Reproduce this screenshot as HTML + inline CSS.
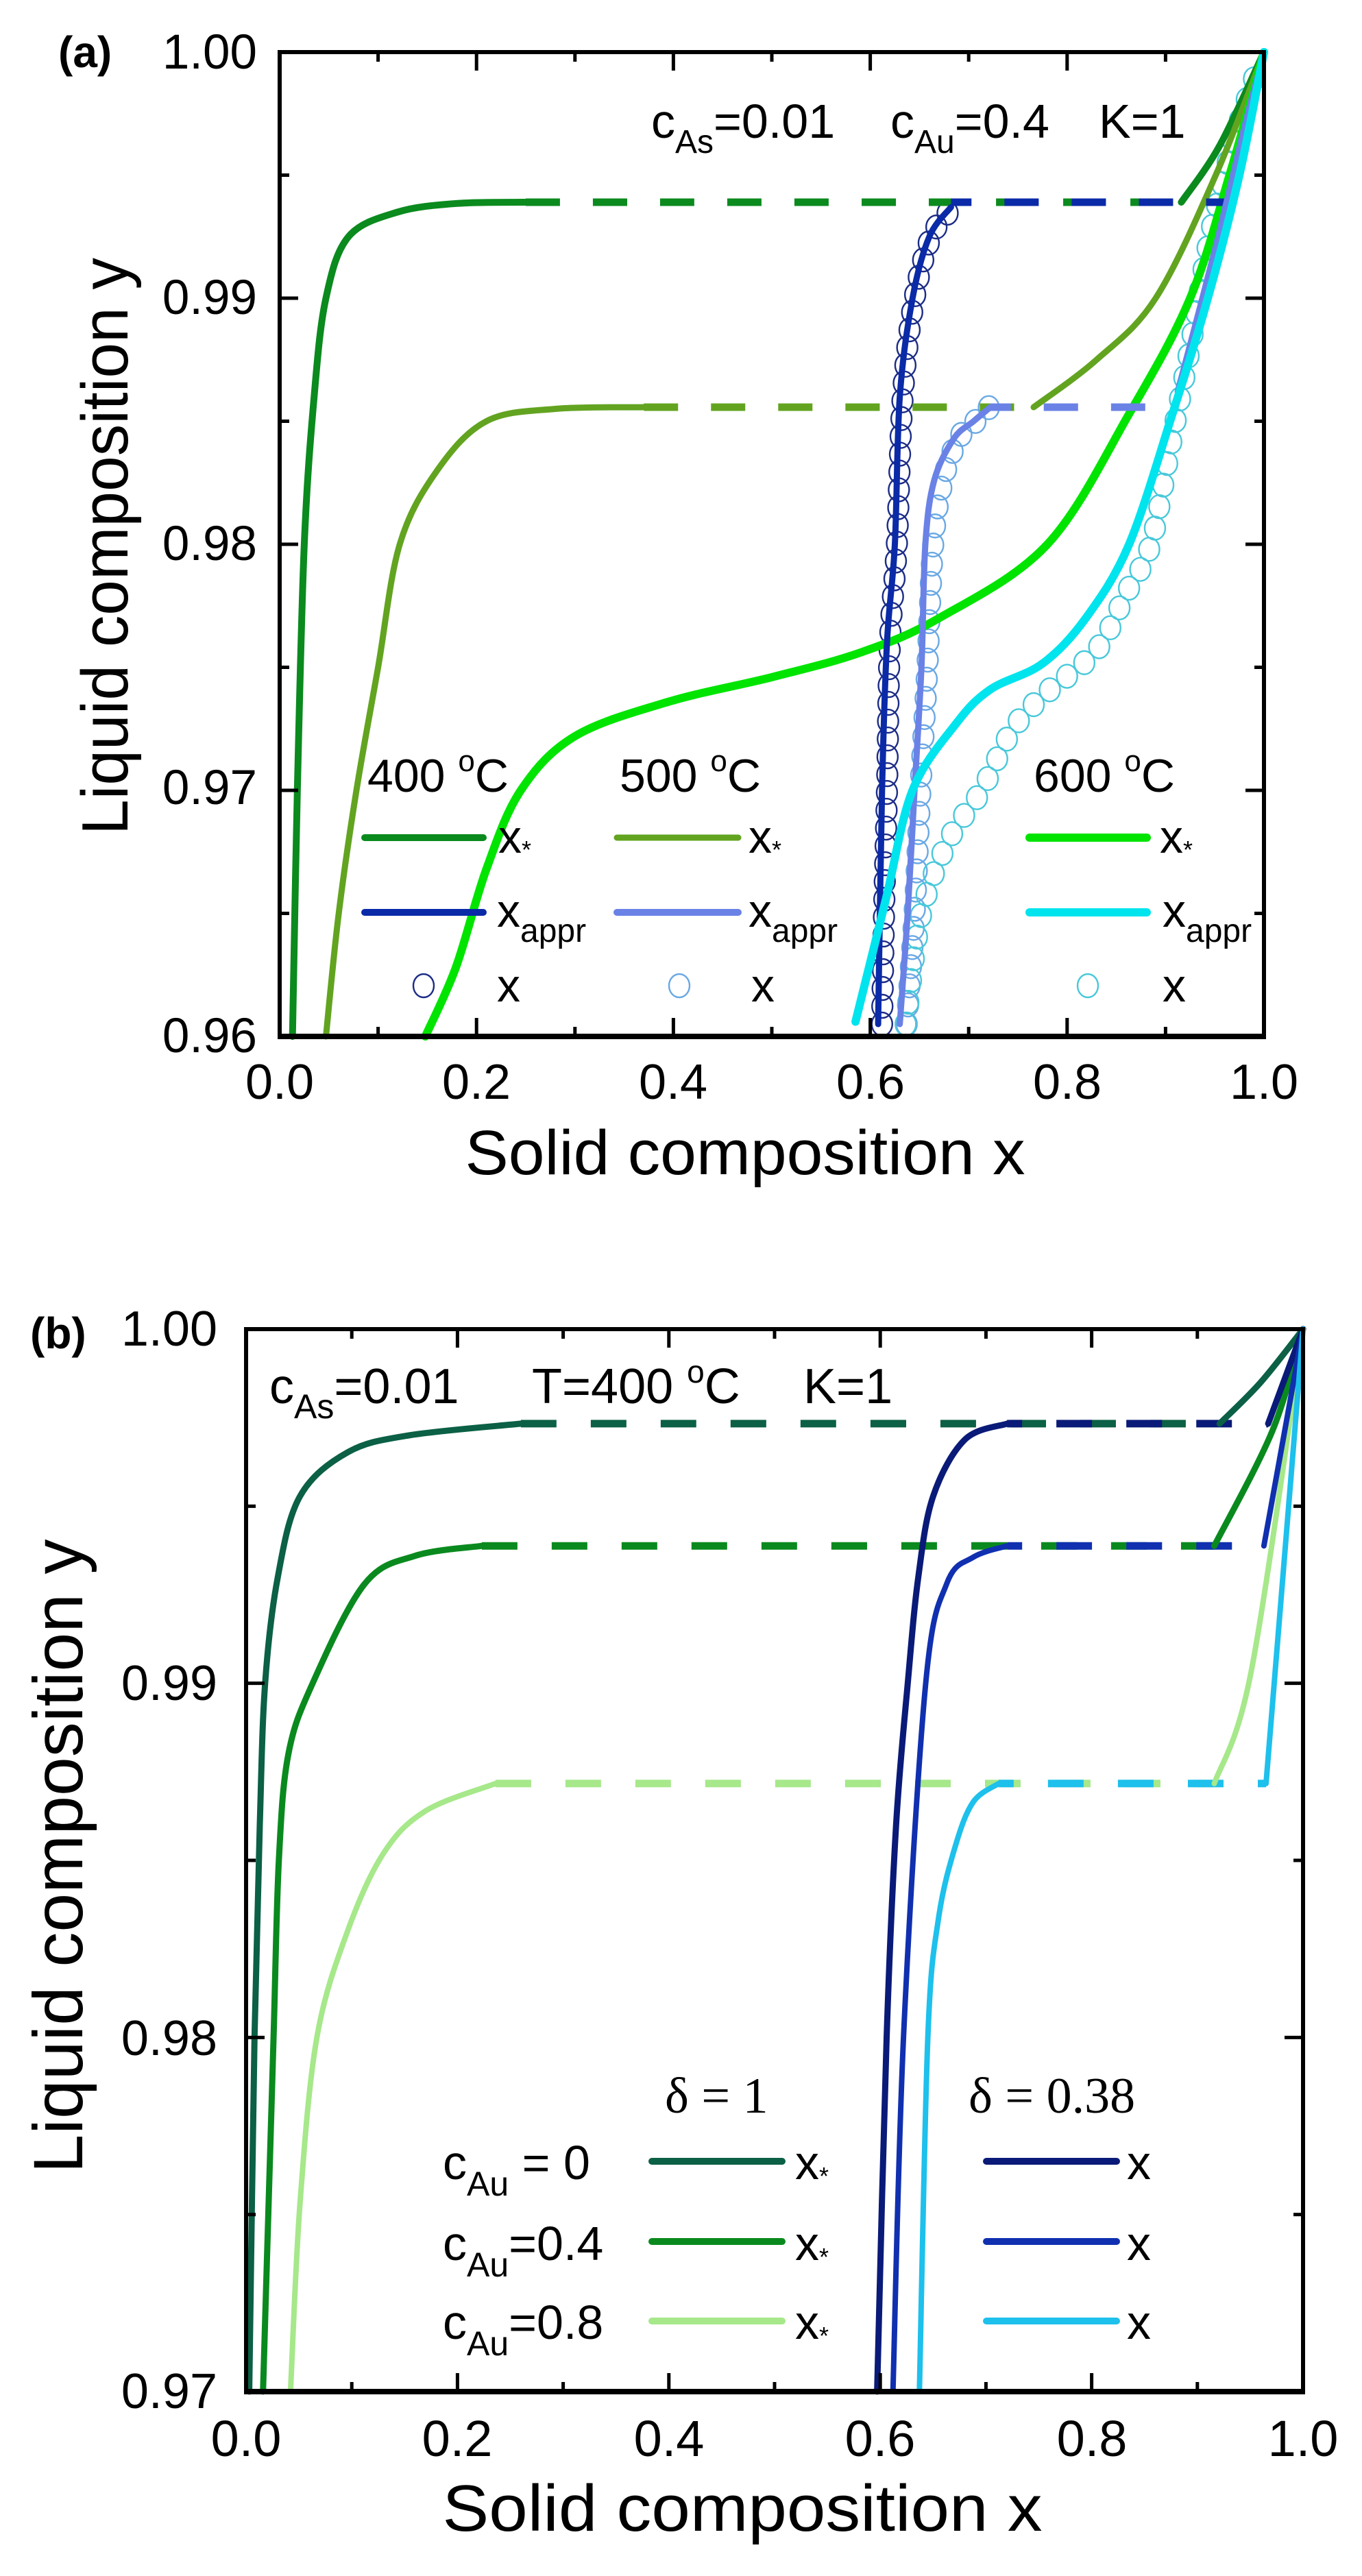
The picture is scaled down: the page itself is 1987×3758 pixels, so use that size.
<!DOCTYPE html>
<html><head><meta charset="utf-8">
<style>
html,body{margin:0;padding:0;background:#fff;}
svg{display:block;}
text{font-family:"Liberation Sans",Arial,sans-serif;fill:#000;}
.serif{font-family:"Liberation Serif","Times New Roman",serif;}
</style></head>
<body>
<svg id="s" width="1987" height="3758" viewBox="0 0 1987 3758" xmlns="http://www.w3.org/2000/svg">
<rect width="1987" height="3758" fill="#fff"/>
<g id="ga"></g>
<g id="gb"></g>

<!-- Panel (a) texts -->
<text x="85" y="98" font-size="64" font-weight="bold">(a)</text>
<g font-size="71" text-anchor="end">
<text x="375" y="100">1.00</text>
<text x="375" y="458">0.99</text>
<text x="375" y="817">0.98</text>
<text x="375" y="1173">0.97</text>
<text x="375" y="1535">0.96</text>
</g>
<g font-size="72" text-anchor="middle">
<text x="408" y="1603">0.0</text>
<text x="695" y="1603">0.2</text>
<text x="982" y="1603">0.4</text>
<text x="1270" y="1603">0.6</text>
<text x="1557" y="1603">0.8</text>
<text x="1844" y="1603">1.0</text>
</g>
<text x="1087" y="1713" font-size="92" text-anchor="middle" textLength="817" lengthAdjust="spacingAndGlyphs">Solid composition x</text>
<text transform="translate(186,797) rotate(-90)" font-size="96" text-anchor="middle" textLength="842" lengthAdjust="spacingAndGlyphs">Liquid composition y</text>
<g font-size="70">
<text x="950" y="201">c<tspan font-size="48" dy="22">As</tspan><tspan dy="-22">=0.01</tspan></text>
<text x="1299" y="201">c<tspan font-size="48" dy="22">Au</tspan><tspan dy="-22">=0.4</tspan></text>
<text x="1603" y="201">K=1</text>
</g>
<g font-size="68">
<text x="536" y="1155">400 <tspan font-size="44" dy="-30">o</tspan><tspan dy="30">C</tspan></text>
<text x="904" y="1155">500 <tspan font-size="44" dy="-30">o</tspan><tspan dy="30">C</tspan></text>
<text x="1508" y="1155">600 <tspan font-size="44" dy="-30">o</tspan><tspan dy="30">C</tspan></text>
<text x="727" y="1244">x<tspan font-size="36" dy="8">*</tspan></text>
<text x="1092" y="1244">x<tspan font-size="36" dy="8">*</tspan></text>
<text x="1692" y="1244">x<tspan font-size="36" dy="8">*</tspan></text>
<text x="725" y="1352">x<tspan font-size="48" dy="22">appr</tspan></text>
<text x="1092" y="1352">x<tspan font-size="48" dy="22">appr</tspan></text>
<text x="1696" y="1352">x<tspan font-size="48" dy="22">appr</tspan></text>
<text x="725" y="1461">x</text>
<text x="1096" y="1461">x</text>
<text x="1696" y="1461">x</text>
</g>

<!-- Panel (b) texts -->
<text x="44" y="1967" font-size="64" font-weight="bold">(b)</text>
<g font-size="72" text-anchor="end">
<text x="317" y="1963">1.00</text>
<text x="317" y="2480">0.99</text>
<text x="317" y="2998">0.98</text>
<text x="317" y="3513">0.97</text>
</g>
<g font-size="74" text-anchor="middle">
<text x="359" y="3583">0.0</text>
<text x="667" y="3583">0.2</text>
<text x="976" y="3583">0.4</text>
<text x="1284" y="3583">0.6</text>
<text x="1593" y="3583">0.8</text>
<text x="1901" y="3583">1.0</text>
</g>
<text x="1083" y="3692" font-size="96" text-anchor="middle" textLength="875" lengthAdjust="spacingAndGlyphs">Solid composition x</text>
<text transform="translate(120,2708) rotate(-90)" font-size="102" text-anchor="middle" textLength="925" lengthAdjust="spacingAndGlyphs">Liquid composition y</text>
<g font-size="72">
<text x="393" y="2047">c<tspan font-size="50" dy="22">As</tspan><tspan dy="-22">=0.01</tspan></text>
<text x="776" y="2047">T=400 <tspan font-size="46" dy="-30">o</tspan><tspan dy="30">C</tspan></text>
<text x="1172" y="2047">K=1</text>
</g>
<g font-size="70">
<text class="serif" x="970" y="3082" font-size="74">δ = 1</text>
<text class="serif" x="1413" y="3082" font-size="74">δ = 0.38</text>
<text x="646" y="3179">c<tspan font-size="50" dy="24">Au</tspan><tspan dy="-24"> = 0</tspan></text>
<text x="646" y="3297">c<tspan font-size="50" dy="24">Au</tspan><tspan dy="-24">=0.4</tspan></text>
<text x="646" y="3412">c<tspan font-size="50" dy="24">Au</tspan><tspan dy="-24">=0.8</tspan></text>
<text x="1160" y="3179">x<tspan font-size="36" dy="8">*</tspan></text>
<text x="1160" y="3297">x<tspan font-size="36" dy="8">*</tspan></text>
<text x="1160" y="3412">x<tspan font-size="36" dy="8">*</tspan></text>
<text x="1644" y="3179">x</text>
<text x="1644" y="3297">x</text>
<text x="1644" y="3412">x</text>
</g>
</svg>
<script>
(function(){
var NS="http://www.w3.org/2000/svg";
function el(p,tag,at){var e=document.createElementNS(NS,tag);for(var k in at)e.setAttribute(k,at[k]);p.appendChild(e);return e;}
function cr(pts){
 var d="M"+pts[0][0].toFixed(1)+","+pts[0][1].toFixed(1);
 for(var i=0;i<pts.length-1;i++){
  var p0=pts[i-1]||pts[i],p1=pts[i],p2=pts[i+1],p3=pts[i+2]||p2;
  var c1=[p1[0]+(p2[0]-p0[0])/6,p1[1]+(p2[1]-p0[1])/6];
  var c2=[p2[0]-(p3[0]-p1[0])/6,p2[1]-(p3[1]-p1[1])/6];
  d+=" C"+c1[0].toFixed(1)+","+c1[1].toFixed(1)+" "+c2[0].toFixed(1)+","+c2[1].toFixed(1)+" "+p2[0].toFixed(1)+","+p2[1].toFixed(1);
 }
 return d;}
function panel(g,L,R,T,B,ymin,yticks){
 var X=function(x){return L+(R-L)*x;},Y=function(y){return T+(1-y)/(1-ymin)*(B-T);};
 function curve(data,col,w,dash){var p=data.map(function(q){return[X(q[0]),Y(q[1])];});
  var a={d:cr(p),fill:"none",stroke:col,"stroke-width":w,"stroke-linecap":"round","stroke-linejoin":"round"};
  if(dash){a["stroke-dasharray"]=dash;a["stroke-linecap"]="butt";}return el(g,"path",a);}
 function circles(data,col,step){var p=data.map(function(q){return[X(q[0]),Y(q[1])];});
  var path=el(g,"path",{d:cr(p),fill:"none",stroke:"none"});var len=path.getTotalLength();
  for(var s=0;s<=len;s+=step){var pt=path.getPointAtLength(s);el(g,"ellipse",{cx:pt.x,cy:pt.y,rx:15,ry:17,fill:"none",stroke:col,"stroke-width":2.4});}}
 function axes(){
  el(g,"rect",{x:L,y:T,width:R-L,height:B-T,fill:"none",stroke:"#000","stroke-width":6});
  el(g,"line",{x1:L-3,y1:B,x2:R+3,y2:B,stroke:"#000","stroke-width":8});
  for(var i=0;i<=10;i++){var x=X(i/10),len=(i%2==0)?27:14;
   el(g,"line",{x1:x,y1:B,x2:x,y2:B-len,stroke:"#000","stroke-width":5});
   el(g,"line",{x1:x,y1:T,x2:x,y2:T+len,stroke:"#000","stroke-width":5});}
  for(var j=0;j<yticks.length;j++){var y=yticks[j][0],len2=yticks[j][1]?27:14,yy=Y(y);
   el(g,"line",{x1:L,y1:yy,x2:L+len2,y2:yy,stroke:"#000","stroke-width":5});
   el(g,"line",{x1:R,y1:yy,x2:R-len2,y2:yy,stroke:"#000","stroke-width":5});}
 }
 return {X:X,Y:Y,curve:curve,circles:circles,axes:axes};
}
// ---------- Panel a ----------
var ga=document.getElementById("ga");
var yta=[];for(var k=0;k<=8;k++)yta.push([0.96+k*0.005,k%2==0]);
var A=panel(ga,408,1844,76,1512,0.96,yta);
var D="50 48";
A.circles([[0.612,0.9605],[0.614,0.965],[0.617,0.97],[0.62,0.976],[0.627,0.98],[0.633,0.986],[0.645,0.99],[0.662,0.9925],[0.684,0.9937]],"#1c2c86",26);
A.circles([[0.637,0.9605],[0.645,0.965],[0.651,0.97],[0.658,0.975],[0.664,0.98],[0.674,0.9826],[0.69,0.9843],[0.707,0.985],[0.724,0.9857]],"#6aa8e4",28);
A.circles([[0.636,0.9605],[0.652,0.965],[0.68,0.968],[0.713,0.97],[0.745,0.9725],[0.78,0.974],[0.83,0.9757],[0.86,0.978],[0.885,0.98],[0.905,0.984],[0.925,0.988],[0.945,0.9925],[0.97,0.9965],[0.995,0.9995]],"#48c8da",32);
A.curve([[0.013,0.96],[0.018,0.97],[0.025,0.98],[0.035,0.986],[0.047,0.99],[0.07,0.9925],[0.12,0.9935],[0.18,0.99385],[0.25,0.9939]],"#0b8a1e",10);
A.curve([[0.25,0.9939],[0.916,0.9939]],"#0b8a1e",11,D);
A.curve([[0.916,0.9939],[0.955,0.9962],[1,1]],"#0b8a1e",10);
A.curve([[0.047,0.96],[0.06,0.965],[0.078,0.97],[0.1,0.975],[0.122,0.98],[0.16,0.983],[0.21,0.985],[0.28,0.9855],[0.37,0.98557]],"#62a420",9);
A.curve([[0.37,0.98557],[0.766,0.98557]],"#62a420",11,D);
A.curve([[0.766,0.98557],[0.83,0.9875],[0.89,0.99],[0.951,0.995],[1,1]],"#62a420",9);
A.curve([[0.148,0.96],[0.179,0.9628],[0.21,0.9668],[0.245,0.97],[0.3,0.9722],[0.395,0.9736],[0.5,0.9746],[0.59,0.9756],[0.67,0.977],[0.78,0.98],[0.863,0.9853],[0.925,0.99],[0.965,0.995],[1,1]],"#00e400",12);
A.curve([[0.682,0.9939],[0.968,0.9939]],"#0a2aa8",11,D).setAttribute("stroke-dashoffset","20");
A.curve([[0.968,0.9939],[1,1]],"#0a2aa8",8);
A.curve([[0.608,0.9605],[0.612,0.97],[0.617,0.976],[0.625,0.98],[0.63,0.986],[0.643,0.99],[0.66,0.9925],[0.682,0.9937]],"#0a2aa8",9);
A.curve([[0.722,0.98557],[0.905,0.98557]],"#6a82e6",11,D).setAttribute("stroke-dashoffset","20");
A.curve([[0.63,0.9605],[0.638,0.965],[0.645,0.97],[0.652,0.975],[0.656,0.98],[0.665,0.9826],[0.685,0.9843],[0.705,0.985],[0.722,0.98557]],"#6a82e6",9);
A.curve([[0.912,0.9862],[0.95,0.992],[0.98,0.997],[1,1]],"#6a82e6",8);
A.curve([[0.585,0.9606],[0.616,0.9656],[0.643,0.97],[0.687,0.9727],[0.722,0.9741],[0.775,0.97515],[0.819,0.977],[0.863,0.98],[0.907,0.9853],[0.943,0.99],[0.975,0.995],[1,1]],"#00e4ee",12);
A.axes();
function ll(g,x1,x2,y,c,w){el(g,"line",{x1:x1,y1:y,x2:x2,y2:y,stroke:c,"stroke-width":w,"stroke-linecap":"round"});}
ll(ga,532,705,1222,"#0b8a1e",10);ll(ga,900,1077,1222,"#62a420",9);ll(ga,1502,1673,1222,"#00e400",12);
ll(ga,532,705,1331,"#0a2aa8",10);ll(ga,900,1077,1331,"#6a82e6",10);ll(ga,1502,1673,1331,"#00e4ee",12);
el(ga,"ellipse",{cx:618,cy:1438,rx:15,ry:17,fill:"none",stroke:"#1c2c86","stroke-width":2.4});
el(ga,"ellipse",{cx:991,cy:1438,rx:15,ry:17,fill:"none",stroke:"#6aa8e4","stroke-width":2.4});
el(ga,"ellipse",{cx:1587,cy:1438,rx:15,ry:17,fill:"none",stroke:"#48c8da","stroke-width":2.4});
// ---------- Panel b ----------
var gb=document.getElementById("gb");
var ytb=[];for(var k2=0;k2<=6;k2++)ytb.push([0.97+k2*0.005,k2%2==0]);
var Bp=panel(gb,359,1901,1939,3489,0.97,ytb);
var DB="52 50";
Bp.curve([[0.26,0.99733],[0.921,0.99733]],"#0b6045",11,DB);
Bp.curve([[0.223,0.99388],[0.916,0.99388]],"#0a8a1e",11,DB);
Bp.curve([[0.236,0.98717],[0.916,0.98717]],"#a6e88a",11,DB);
Bp.curve([[0.72,0.99733],[0.967,0.99733]],"#0a1a78",11,DB).setAttribute("stroke-dashoffset","30");
Bp.curve([[0.72,0.99388],[0.963,0.99388]],"#1030b0",11,DB).setAttribute("stroke-dashoffset","30");
Bp.curve([[0.712,0.98717],[0.965,0.98717]],"#1ec0ec",11,DB).setAttribute("stroke-dashoffset","30");
Bp.curve([[0.003,0.97],[0.008,0.98],[0.013,0.986],[0.018,0.99],[0.03,0.993],[0.051,0.99528],[0.096,0.99652],[0.154,0.997],[0.26,0.99733]],"#0b6045",9);
Bp.curve([[0.921,0.99733],[0.96,0.9985],[1,1]],"#0b6045",9);
Bp.curve([[0.016,0.97],[0.021,0.975],[0.026,0.98],[0.031,0.985],[0.04,0.988],[0.063,0.99],[0.112,0.9928],[0.16,0.9936],[0.223,0.99388]],"#0a8a1e",9);
Bp.curve([[0.916,0.99388],[0.971,0.99713],[1,1]],"#0a8a1e",9);
Bp.curve([[0.042,0.97],[0.051,0.9753],[0.067,0.98],[0.096,0.983],[0.13,0.9852],[0.17,0.9864],[0.236,0.98717]],"#a6e88a",8);
Bp.curve([[0.916,0.98717],[0.951,0.99034],[1,1]],"#a6e88a",8);
Bp.curve([[0.597,0.97],[0.606,0.98],[0.615,0.986],[0.626,0.99],[0.636,0.993],[0.65,0.99528],[0.68,0.99688],[0.72,0.99733]],"#0a1a78",9);
Bp.curve([[0.967,0.99733],[1,1]],"#0a1a78",9);
Bp.curve([[0.612,0.97],[0.622,0.98],[0.643,0.99],[0.663,0.99282],[0.688,0.99356],[0.72,0.99388]],"#1030b0",8);
Bp.curve([[0.963,0.99388],[1,1]],"#1030b0",8);
Bp.curve([[0.637,0.97],[0.645,0.98],[0.655,0.98334],[0.671,0.9854],[0.688,0.98665],[0.712,0.98717]],"#1ec0ec",8);
Bp.curve([[0.965,0.98717],[1,1]],"#1ec0ec",8);
Bp.axes();
ll(gb,951,1141,3153,"#0b6045",10);ll(gb,951,1141,3270,"#0a8a1e",10);ll(gb,951,1141,3386,"#a6e88a",10);
ll(gb,1439,1629,3153,"#0a1a78",10);ll(gb,1439,1629,3270,"#1030b0",10);ll(gb,1439,1629,3386,"#1ec0ec",10);
})();
</script>
</body></html>
